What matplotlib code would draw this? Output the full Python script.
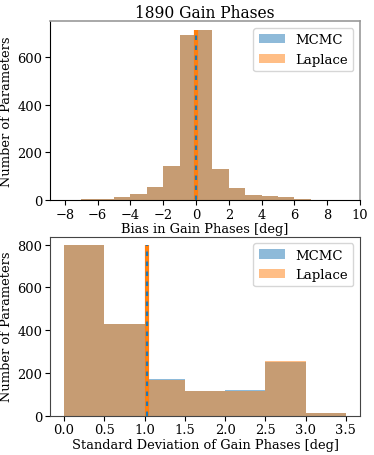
import numpy as np
import matplotlib
matplotlib.use("Agg")
import matplotlib.pyplot as plt

plt.rcParams['font.family'] = ['DejaVu Serif']

# Top panel: bias histogram (bins of width 1 from -8 to 9)
bias_edges = [-8, -7, -6, -5, -4, -3, -2, -1, 0, 1, 2, 3, 4, 5, 6, 7, 8, 9]
bias_mcmc = [0, 4, 7, 14, 28, 54, 143, 690, 712, 130, 50, 22, 19, 12, 7, 1, 2]
bias_laplace = [0, 5, 7, 14, 28, 54, 143, 691, 711, 130, 50, 20, 19, 12, 7, 1, 2]
bias_mean_mcmc = 0.02
bias_mean_laplace = 0.02

# Bottom panel: standard deviation histogram (bins of width 0.5)
std_edges = [0.0, 0.5, 1.0, 1.5, 2.0, 2.5, 3.0, 3.5]
std_mcmc = [797, 428, 170, 116, 118, 251, 13]
std_laplace = [797, 428, 167, 116, 117, 254, 11]
std_mean_mcmc = 1.03
std_mean_laplace = 1.03

blue = '#1f77b4'
orange = '#ff7f0e'

fig = plt.figure(figsize=(3.74, 4.56), dpi=100)
ax1 = fig.add_axes([0.1337, 0.5586, 0.8289, 0.3921])
ax2 = fig.add_axes([0.1337, 0.0862, 0.8289, 0.3925])

FS = 9.4

def draw(ax, edges, mc, lp, mean_mc, mean_lp):
    edges = np.array(edges, dtype=float)
    centers = (edges[:-1] + edges[1:]) / 2
    ax.hist(centers, bins=edges, weights=mc, color=blue, alpha=0.5, label='MCMC')
    ax.hist(centers, bins=edges, weights=lp, color=orange, alpha=0.5, label='Laplace')
    top = max(max(mc), max(lp))
    ax.vlines(mean_lp, 0, top, color=orange, lw=3, linestyles='solid', zorder=3)
    ax.vlines(mean_mc, 0, top, color=blue, lw=1.6, linestyles=(0, (2, 2.5)), zorder=4)
    ax.legend(loc='upper right', fontsize=FS + 0.1, handlelength=2.0)
    ax.tick_params(labelsize=FS, pad=2)

draw(ax1, bias_edges, bias_mcmc, bias_laplace, bias_mean_mcmc, bias_mean_laplace)
draw(ax2, std_edges, std_mcmc, std_laplace, std_mean_mcmc, std_mean_laplace)

ax1.set_xlim(-8.9, 10)
ax1.set_xticks([-8, -6, -4, -2, 0, 2, 4, 6, 8, 10])
ax1.set_yticks([0, 200, 400, 600])
ax1.set_title('1890 Gain Phases', fontsize=11.2, pad=3)
ax1.set_xlabel('Bias in Gain Phases [deg]', fontsize=FS, labelpad=1)
ax1.set_ylabel('Number of Parameters', fontsize=FS, labelpad=3)
for s in ['top', 'right']:
    ax1.spines[s].set_color('#999999')
    ax1.spines[s].set_linewidth(1.2)

ax2.set_xticks([0.0, 0.5, 1.0, 1.5, 2.0, 2.5, 3.0, 3.5])
ax2.set_yticks([0, 200, 400, 600, 800])
ax2.set_xlabel('Standard Deviation of Gain Phases [deg]', fontsize=FS, labelpad=1)
ax2.set_ylabel('Number of Parameters', fontsize=FS, labelpad=3)
for s in ['top', 'right', 'left', 'bottom']:
    ax2.spines[s].set_color('#444444')

fig.savefig('out.png', dpi=100)
